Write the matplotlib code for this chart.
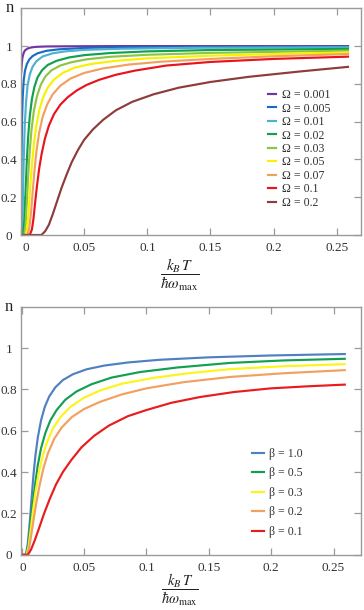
import matplotlib
matplotlib.use("Agg")
import matplotlib.pyplot as plt
from matplotlib.transforms import ScaledTranslation

plt.rcParams['font.family'] = ['Liberation Serif', 'DejaVu Serif']
plt.rcParams['mathtext.fontset'] = 'stix'

# ---------------- data: top panel (Omega series) ----------------
omega_labels = ["Ω = 0.001", "Ω = 0.005", "Ω = 0.01", "Ω = 0.02", "Ω = 0.03",
                "Ω = 0.05", "Ω = 0.07", "Ω = 0.1", "Ω = 0.2"]
omega_colors = ["#6f35a5", "#1a6cc0", "#4fb0cf", "#10a050", "#8cc640",
                "#f7f200", "#f2a060", "#e8141c", "#8e3b3b"]

om001_x = [0, 0.0005, 0.001, 0.002, 0.003, 0.005, 0.008, 0.012, 0.02, 0.04, 0.08, 0.15, 0.259]
om001_y = [0.86, 0.91, 0.94, 0.965, 0.977, 0.987, 0.993, 0.996, 0.998, 0.999, 1.0, 1.0, 1.0]

om005_x = [0, 0.0003, 0.0007, 0.0012, 0.002, 0.003, 0.0045, 0.0065, 0.009, 0.013, 0.02, 0.03,
           0.05, 0.08, 0.15, 0.259]
om005_y = [0.20, 0.45, 0.62, 0.73, 0.82, 0.87, 0.905, 0.93, 0.947, 0.962, 0.975, 0.983,
           0.99, 0.994, 0.996, 0.997]

om01_x = [0, 0.0006, 0.001, 0.0015, 0.002, 0.0028, 0.0038, 0.005, 0.0068, 0.009, 0.012, 0.017,
          0.025, 0.035, 0.05, 0.08, 0.14, 0.259]
om01_y = [0, 0.0, 0.08, 0.25, 0.40, 0.58, 0.70, 0.79, 0.85, 0.89, 0.92, 0.945,
          0.962, 0.972, 0.98, 0.986, 0.991, 0.994]

om02_x = [0, 0.0015, 0.0025, 0.0035, 0.0045, 0.0055, 0.0068, 0.0085, 0.0105, 0.013, 0.0165,
          0.021, 0.028, 0.038, 0.05, 0.07, 0.1, 0.15, 0.259]
om02_y = [0, 0.0, 0.08, 0.24, 0.40, 0.52, 0.63, 0.72, 0.785, 0.835, 0.872,
          0.9, 0.922, 0.94, 0.952, 0.963, 0.972, 0.979, 0.985]

om03_x = [0, 0.0025, 0.0035, 0.0045, 0.0055, 0.0068, 0.0082, 0.01, 0.0125, 0.0155, 0.019,
          0.024, 0.031, 0.04, 0.052, 0.07, 0.1, 0.15, 0.259]
om03_y = [0, 0.0, 0.06, 0.18, 0.31, 0.45, 0.56, 0.655, 0.735, 0.795, 0.838,
          0.872, 0.897, 0.915, 0.93, 0.943, 0.954, 0.964, 0.976]

om05_x = [0, 0.0038, 0.005, 0.006, 0.0072, 0.0086, 0.0102, 0.012, 0.0145, 0.0175, 0.021,
          0.026, 0.033, 0.042, 0.055, 0.075, 0.1, 0.15, 0.2, 0.259]
om05_y = [0, 0.0, 0.05, 0.14, 0.26, 0.38, 0.49, 0.58, 0.665, 0.73, 0.78,
          0.823, 0.858, 0.885, 0.905, 0.922, 0.935, 0.949, 0.958, 0.966]

om07_x = [0, 0.005, 0.0065, 0.0078, 0.009, 0.0105, 0.0122, 0.0142, 0.017, 0.0205, 0.025,
          0.031, 0.039, 0.05, 0.065, 0.085, 0.11, 0.15, 0.2, 0.259]
om07_y = [0, 0.0, 0.04, 0.12, 0.22, 0.34, 0.45, 0.54, 0.625, 0.69, 0.745,
          0.79, 0.828, 0.858, 0.882, 0.902, 0.917, 0.932, 0.946, 0.958]

om1_x = [0, 0.0068, 0.0085, 0.0098, 0.011, 0.0125, 0.0142, 0.0162, 0.0188, 0.022, 0.026,
         0.031, 0.037, 0.044, 0.052, 0.062, 0.075, 0.09, 0.115, 0.15, 0.2, 0.259]
om1_y = [0, 0.0, 0.03, 0.09, 0.17, 0.26, 0.35, 0.43, 0.51, 0.58, 0.64,
         0.69, 0.73, 0.765, 0.795, 0.822, 0.848, 0.87, 0.897, 0.916, 0.932, 0.944]

om2_x = [0, 0.016, 0.019, 0.022, 0.025, 0.028, 0.032, 0.036, 0.04, 0.045, 0.05, 0.057,
         0.065, 0.075, 0.088, 0.105, 0.125, 0.15, 0.18, 0.22, 0.259]
om2_y = [0, 0.0, 0.02, 0.055, 0.11, 0.17, 0.25, 0.32, 0.385, 0.45, 0.505, 0.56,
         0.61, 0.66, 0.705, 0.745, 0.78, 0.81, 0.837, 0.865, 0.89]

# ---------------- data: bottom panel (beta series) ----------------
beta_labels = ["β = 1.0", "β = 0.5", "β = 0.3", "β = 0.2", "β = 0.1"]
beta_colors = ["#4f80c0", "#12a050", "#fbf51a", "#f2a060", "#e81c1c"]

b10_x = [0, 0.0035, 0.005, 0.0065, 0.008, 0.0095, 0.011, 0.013, 0.0155, 0.0185, 0.022, 0.027,
         0.033, 0.041, 0.052, 0.066, 0.085, 0.11, 0.15, 0.2, 0.259]
b10_y = [0, 0.0, 0.06, 0.16, 0.28, 0.39, 0.48, 0.57, 0.65, 0.715, 0.765, 0.81,
         0.845, 0.873, 0.897, 0.915, 0.93, 0.943, 0.955, 0.964, 0.971]

b05_x = [0, 0.0035, 0.005, 0.0068, 0.0085, 0.0105, 0.0128, 0.0155, 0.019, 0.023, 0.028, 0.035,
         0.044, 0.056, 0.072, 0.095, 0.125, 0.167, 0.21, 0.259]
b05_y = [0, 0.0, 0.04, 0.13, 0.23, 0.33, 0.43, 0.515, 0.59, 0.65, 0.70, 0.75,
         0.79, 0.825, 0.857, 0.884, 0.906, 0.928, 0.94, 0.948]

b03_x = [0, 0.004, 0.0055, 0.0072, 0.009, 0.011, 0.0135, 0.0165, 0.02, 0.025, 0.031, 0.039,
         0.05, 0.063, 0.08, 0.105, 0.135, 0.167, 0.21, 0.259]
b03_y = [0, 0.0, 0.04, 0.12, 0.21, 0.30, 0.39, 0.47, 0.54, 0.61, 0.665, 0.715,
         0.76, 0.795, 0.827, 0.855, 0.879, 0.898, 0.912, 0.922]

b02_x = [0, 0.0045, 0.006, 0.0078, 0.0098, 0.012, 0.0145, 0.0175, 0.021, 0.026, 0.032, 0.04,
         0.05, 0.063, 0.08, 0.1, 0.13, 0.167, 0.21, 0.259]
b02_y = [0, 0.0, 0.035, 0.1, 0.18, 0.26, 0.34, 0.42, 0.49, 0.56, 0.615, 0.665,
         0.705, 0.74, 0.775, 0.805, 0.835, 0.86, 0.878, 0.893]

b01_x = [0, 0.005, 0.0075, 0.0105, 0.014, 0.018, 0.0225, 0.0275, 0.033, 0.04, 0.048, 0.058,
         0.07, 0.085, 0.1, 0.12, 0.143, 0.17, 0.2, 0.23, 0.259]
b01_y = [0, 0.0, 0.025, 0.07, 0.13, 0.20, 0.27, 0.34, 0.40, 0.46, 0.52, 0.575,
         0.625, 0.67, 0.70, 0.735, 0.763, 0.787, 0.805, 0.815, 0.823]

x_ticks = [0, 0.05, 0.1, 0.15, 0.2, 0.25]
x_tick_labels = ["0", "0.05", "0.1", "0.15", "0.2", "0.25"]
y_ticks = [0, 0.2, 0.4, 0.6, 0.8, 1.0]
y_tick_labels = ["0", "0.2", "0.4", "0.6", "0.8", "1"]

top_series = [(om001_x, om001_y), (om005_x, om005_y), (om01_x, om01_y), (om02_x, om02_y),
              (om03_x, om03_y), (om05_x, om05_y), (om07_x, om07_y), (om1_x, om1_y),
              (om2_x, om2_y)]
bottom_series = [(b10_x, b10_y), (b05_x, b05_y), (b03_x, b03_y), (b02_x, b02_y), (b01_x, b01_y)]

W, H = 364, 610
fig = plt.figure(figsize=(W / 100, H / 100), dpi=100)
fig.patch.set_facecolor("white")

ax1 = fig.add_axes([20.7 / W, 1 - 235 / H, (361 - 20.7) / W, (235 - 8.3) / H])
ax2 = fig.add_axes([20.7 / W, 1 - 554.7 / H, (361 - 20.7) / W, (554.7 - 306.7) / H])

frame_col = "#9a9a9a"


def style(ax, xlim, zero_shift_px):
    ax.set_xlim(*xlim)
    ax.set_ylim(0, 1.2)
    ax.set_xticks(x_ticks)
    ax.set_xticklabels(x_tick_labels)
    ax.set_yticks(y_ticks)
    ax.set_yticklabels(y_tick_labels)
    for s in ax.spines.values():
        s.set_color(frame_col)
        s.set_linewidth(1.0)
    ax.tick_params(axis="both", direction="in", length=5, width=0.9, color=frame_col,
                   top=True, right=True, labelsize=9.5, labelcolor="#333333")
    ax.tick_params(axis="x", pad=5)
    ax.tick_params(axis="y", pad=8.3)
    for lab in ax.get_yticklabels():
        lab.set_horizontalalignment("center")
    first = ax.get_xticklabels()[0]
    first.set_transform(first.get_transform() +
                        ScaledTranslation(zero_shift_px / 100, 0, fig.dpi_scale_trans))


for (xs, ys), c, lab in zip(top_series, omega_colors, omega_labels):
    ax1.plot(xs, ys, color=c, lw=1.55, label=lab, solid_joinstyle="round")
for (xs, ys), c, lab in zip(bottom_series, beta_colors, beta_labels):
    ax2.plot(xs, ys, color=c, lw=1.55, label=lab, solid_joinstyle="round")

style(ax1, (-0.0004, 0.2693), 5)
style(ax2, (-0.0008, 0.272), 1.5)

leg1 = ax1.legend(loc="upper left", bbox_to_anchor=(0.728, 0.643), frameon=False,
                  handlelength=0.65, handletextpad=0.45, labelspacing=0.12,
                  fontsize=8.6, borderpad=0, borderaxespad=0)
leg2 = ax2.legend(loc="upper left", bbox_to_anchor=(0.68, 0.43), frameon=False,
                  handlelength=1.0, handletextpad=0.45, labelspacing=0.62,
                  fontsize=8.6, borderpad=0, borderaxespad=0)
for leg in (leg1, leg2):
    for t in leg.get_texts():
        t.set_color("#333333")

xlabel = r"$\dfrac{k_B\,T}{\hbar\omega_{\mathrm{max}}}$"
fig.text(180 / W, 1 - 275 / H, xlabel, ha="center", va="center", fontsize=11, color="#222222")
fig.text(180 / W, 2 / H, xlabel, ha="center", va="bottom", fontsize=10.5, color="#222222")
fig.text(10 / W, 1 - 8.5 / H, "n", ha="center", va="center", fontsize=12, color="#222222")
fig.text(8.5 / W, 1 - 307 / H, "n", ha="center", va="center", fontsize=12, color="#222222")

fig.savefig("out.png", dpi=100)
